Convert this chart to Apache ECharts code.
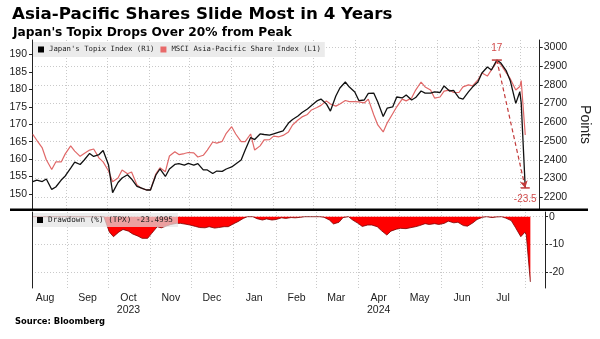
<!DOCTYPE html>
<html><head><meta charset="utf-8">
<script src="https://cdn.jsdelivr.net/npm/echarts@6/dist/echarts.min.js"></script>
<style>html,body{margin:0;padding:0;background:#fff}#c{width:600px;height:339px}</style>
</head><body><div id="c"></div>
<script>
const dates = [
'2023-08-07','2023-08-10','2023-08-14','2023-08-17','2023-08-21','2023-08-24','2023-08-28','2023-08-31',
'2023-09-04','2023-09-07','2023-09-11','2023-09-14','2023-09-18','2023-09-21','2023-09-25','2023-09-28',
'2023-10-02','2023-10-05','2023-10-09','2023-10-12','2023-10-16','2023-10-19','2023-10-23','2023-10-26',
'2023-10-30','2023-11-02','2023-11-06','2023-11-09','2023-11-13','2023-11-16','2023-11-20','2023-11-23',
'2023-11-27','2023-11-30','2023-12-04','2023-12-07','2023-12-11','2023-12-14','2023-12-18','2023-12-21',
'2023-12-25','2023-12-28','2024-01-01','2024-01-04','2024-01-08','2024-01-11','2024-01-15','2024-01-18',
'2024-01-22','2024-01-25','2024-01-29','2024-02-01','2024-02-05','2024-02-08','2024-02-12','2024-02-15',
'2024-02-19','2024-02-22','2024-02-26','2024-02-29','2024-03-04','2024-03-07','2024-03-11','2024-03-14',
'2024-03-18','2024-03-21','2024-03-25','2024-03-28','2024-04-01','2024-04-04','2024-04-08','2024-04-11',
'2024-04-15','2024-04-18','2024-04-22','2024-04-25','2024-04-29','2024-05-02','2024-05-06','2024-05-09',
'2024-05-13','2024-05-16','2024-05-20','2024-05-23','2024-05-27','2024-05-30','2024-06-03','2024-06-06',
'2024-06-10','2024-06-13','2024-06-17','2024-06-20','2024-06-24','2024-06-27','2024-07-01','2024-07-04',
'2024-07-08','2024-07-11','2024-07-15','2024-07-18','2024-07-22','2024-07-25','2024-07-29','2024-08-01',
'2024-08-02','2024-08-05'];

const topix = [
2284,2292,2284,2298,2242,2255,2292,2314,
2356,2388,2375,2399,2434,2418,2428,2450,
2372,2225,2279,2303,2320,2298,2258,2250,
2239,2239,2319,2351,2311,2351,2375,2380,
2372,2381,2372,2380,2346,2346,2327,2340,
2338,2351,2362,2378,2399,2452,2519,2508,
2538,2535,2532,2538,2548,2554,2596,2615,
2634,2652,2671,2690,2714,2724,2698,2660,
2740,2783,2815,2788,2762,2716,2719,2754,
2756,2708,2631,2676,2682,2735,2730,2746,
2719,2732,2767,2756,2756,2762,2759,2794,
2767,2770,2730,2724,2762,2788,2815,2863,
2895,2879,2932,2916,2874,2820,2701,2763,
2705,2250];

const msci = [
167.1,165.4,163.2,159.8,157.0,159.2,159.2,161.5,
163.8,162.3,160.8,161.6,162.6,162.9,160.3,159.2,
156.6,153.5,154.6,156.9,155.8,156.3,152.6,151.7,
151.2,151.2,155.8,157.5,156.4,160.9,162.1,161.3,
161.6,161.9,161.8,160.6,161.1,162.6,164.9,164.6,
165.1,167.4,169.3,167.2,165.0,165.0,167.2,162.6,
163.8,165.5,165.6,166.6,166.4,166.8,167.8,169.8,
171.2,172.1,172.8,174.1,174.8,175.4,176.7,175.8,
175.2,175.8,176.8,176.5,176.5,176.4,176.1,177.2,
172.7,169.8,167.8,170.4,173.0,175.0,177.2,176.7,
177.5,179.8,182.1,180.7,179.8,177.5,177.8,179.5,
179.8,179.1,179.1,180.7,181.3,181.0,182.7,184.7,
183.8,185.6,187.9,187.1,184.7,183.0,179.8,180.8,
182.5,166.9];

const drawdown = [
0,0,0,0,0,0,0,0,
0,0,0,0,0,0,0,0,
-5.5,-7.2,-5.5,-4.6,-5.2,-6.2,-7.0,-7.8,
-7.8,-6.0,-3.6,-4.0,-3.3,-2.8,-2.4,-2.4,
-2.7,-3.0,-3.5,-3.9,-4.0,-3.6,-4.1,-3.9,
-3.6,-3.6,-2.5,-1.8,-0.6,0,0,-0.7,
-1.2,-0.8,-1.2,-1.0,-0.4,-0.6,-0.3,-0.4,
-0.2,0,0,0,0,-0.2,-1.2,-2.6,
-2.0,-0.3,0,-1.2,-2.4,-3.5,-3.0,-3.0,
-3.6,-5.0,-6.6,-5.2,-4.5,-4.2,-4.3,-4.0,
-3.6,-3.2,-2.5,-2.8,-2.5,-2.8,-2.4,-1.6,
-2.2,-2.0,-3.2,-3.4,-2.2,-1.0,-0.2,0,
-0.3,-0.1,0,-0.5,-1.4,-3.8,-7.2,-5.6,
-6.5,-23.5];

const monthStarts = ['2023-09-01','2023-10-01','2023-11-01','2023-12-01','2024-01-01','2024-02-01',
  '2024-03-01','2024-04-01','2024-05-01','2024-06-01','2024-07-01','2024-08-01'];
const monthLabelDates = ['2023-08-16','2023-09-16','2023-10-16','2023-11-16','2023-12-16','2024-01-16',
  '2024-02-16','2024-03-16','2024-04-16','2024-05-16','2024-06-16','2024-07-16'];
const monthLabels = ['Aug','Sep','Oct\n2023','Nov','Dec','Jan','Feb','Mar','Apr\n2024','May','Jun','Jul'];
const leftTicks = [150,155,160,165,170,175,180,185,190];
const rightTicks = [2200,2300,2400,2500,2600,2700,2800,2900,3000];
const ddTicks = [0,-10,-20];

const titleText = 'Asia-Pacific Shares Slide Most in 4 Years';
const subtitleText = "Japan's Topix Drops Over 20% from Peak";
const sourceText = 'Source: Bloomberg';
const topixName = "Japan's Topix Index (R1)";
const msciName = 'MSCI Asia-Pacific Share Index (L1)';
const ddName = 'Drawdown (%) (TPX) -23.4995';
const peakLabel = '17';

function t(s) {
  const p = s.split(/[- :]/).map(Number);
  return Date.UTC(p[0], p[1] - 1, p[2], p[3] || 0, p[4] || 0);
}
const xMin = t('2023-08-06 10:00');
const xMax = t('2024-08-15 17:00');
const startTs = monthStarts.map(t);
const labelTs = monthLabelDates.map(t);

const peakIdx = topix.indexOf(Math.max(...topix));
const lastIdx = topix.length - 1;
const RED = '#d24a4a';

const gridLine = {show: true, lineStyle: {color: '#c9c9c9', type: [1, 2], width: 1}};
const lblFont = {fontFamily: 'Liberation Sans, Arial, sans-serif', fontSize: 10.5, color: '#222'};
const plain = v => String(v);

const chart = echarts.init(document.getElementById('c'), null, {renderer: 'canvas'});
chart.setOption({
  animation: false,
  backgroundColor: '#fff',
  title: [
    {text: titleText, left: 7, top: 1, textStyle: {fontFamily: 'DejaVu Sans', fontWeight: 'bold', fontSize: 16.7, color: '#000'}},
    {text: subtitleText, left: 8, top: 22, textStyle: {fontFamily: 'DejaVu Sans', fontWeight: 'bold', fontSize: 12.2, color: '#000'}},
    {text: sourceText, left: 10, top: 313, textStyle: {fontFamily: 'DejaVu Sans', fontWeight: 'bold', fontSize: 8.4, color: '#000'}}
  ],
  legend: [
    {data: [{name: topixName, itemStyle: {color: '#000'}}, {name: msciName, itemStyle: {color: '#e86a6a'}}],
     left: 33, top: 42, icon: 'rect', itemWidth: 6, itemHeight: 6, itemGap: 6,
     backgroundColor: '#ebebeb', padding: [4, 4, 4, 5], selectedMode: false,
     textStyle: {fontFamily: 'DejaVu Sans Mono', fontSize: 7.3, color: '#222'}},
    {data: [{name: ddName, itemStyle: {color: '#000'}}],
     left: 33, top: 213, icon: 'rect', itemWidth: 6, itemHeight: 6,
     backgroundColor: 'rgba(228,228,228,0.7)', padding: [3, 5, 3, 4], selectedMode: false,
     textStyle: {fontFamily: 'DejaVu Sans Mono', fontSize: 7.7, color: '#222'}}
  ],
  grid: [
    {left: 32, right: 55, top: 40, height: 169},
    {left: 32, right: 55, top: 212, height: 76}
  ],
  xAxis: [
    {type: 'value', gridIndex: 0, min: xMin, max: xMax,
     axisLine: {show: false}, axisTick: {show: false, customValues: startTs},
     axisLabel: {show: false}, splitLine: gridLine},
    {type: 'value', gridIndex: 1, min: xMin, max: xMax,
     axisLine: {show: false}, axisTick: {show: false, customValues: startTs},
     axisLabel: Object.assign({show: true, customValues: labelTs, margin: 4, lineHeight: 12,
       formatter: v => { const i = labelTs.indexOf(v); return i >= 0 ? monthLabels[i] : ''; }}, lblFont),
     splitLine: gridLine}
  ],
  yAxis: [
    {type: 'value', gridIndex: 0, position: 'left', min: 145.7, max: 194.15,
     axisLine: {show: true, lineStyle: {color: '#222', width: 1}},
     axisTick: {show: true, length: 3, customValues: leftTicks, lineStyle: {color: '#222'}},
     axisLabel: Object.assign({customValues: leftTicks, margin: 5, formatter: plain}, lblFont),
     splitLine: {show: false}},
    {type: 'value', gridIndex: 0, position: 'right', min: 2137.6, max: 3039,
     name: 'Points', nameLocation: 'middle', nameRotate: -90, nameGap: 32,
     nameTextStyle: {fontFamily: 'Liberation Sans, Arial, sans-serif', fontSize: 14, color: '#222'},
     axisLine: {show: true, lineStyle: {color: '#222', width: 1}},
     axisTick: {show: true, length: 3, customValues: rightTicks, lineStyle: {color: '#222'}},
     axisLabel: Object.assign({customValues: rightTicks, margin: 4, formatter: plain}, lblFont),
     splitLine: gridLine},
    {type: 'value', gridIndex: 1, position: 'right', min: -25.7, max: 1.7,
     axisLine: {show: true, lineStyle: {color: '#222', width: 1}},
     axisTick: {show: true, length: 3, customValues: ddTicks, lineStyle: {color: '#222'}},
     axisLabel: Object.assign({customValues: ddTicks, margin: 4, formatter: plain}, lblFont),
     splitLine: gridLine},
    {type: 'value', gridIndex: 1, position: 'left', min: -25.7, max: 1.7,
     axisLine: {show: true, lineStyle: {color: '#222', width: 1}},
     axisTick: {show: false}, axisLabel: {show: false}, splitLine: {show: false}}
  ],
  graphic: [
    {type: 'rect', shape: {x: 10, y: 208.5, width: 578, height: 2.5}, style: {fill: '#000'}, z: 100}
  ],
  series: [
    {name: msciName, type: 'line', xAxisIndex: 0, yAxisIndex: 0, showSymbol: false, symbol: 'none',
     data: dates.map((d, i) => [t(d), msci[i]]),
     lineStyle: {color: '#e06868', width: 1.2}, itemStyle: {color: '#e86a6a'}, z: 2},
    {name: topixName, type: 'line', xAxisIndex: 0, yAxisIndex: 1, showSymbol: false, symbol: 'none',
     data: dates.map((d, i) => [t(d), topix[i]]),
     lineStyle: {color: '#111', width: 1.3}, itemStyle: {color: '#000'}, z: 3,
     markLine: {silent: true, symbol: ['none', 'arrow'], symbolSize: [6, 7], animation: false,
       lineStyle: {color: '#c23a3a', type: [4, 3], width: 1.2}, label: {show: false},
       data: [[{coord: [t(dates[peakIdx]), topix[peakIdx]]}, {coord: [t(dates[lastIdx]), topix[lastIdx]]}]]},
     markPoint: {silent: true, animation: false,
       data: [
         {coord: [t(dates[peakIdx]), topix[peakIdx]], symbol: 'rect', symbolSize: [10, 1.5],
          itemStyle: {color: '#c23a3a'},
          label: {show: true, formatter: peakLabel, position: 'top', distance: 6, color: RED, fontSize: 10,
                  fontFamily: 'Liberation Sans, Arial, sans-serif'}},
         {coord: [t(dates[lastIdx]), topix[lastIdx]], symbol: 'rect', symbolSize: [9, 1.5],
          itemStyle: {color: '#c23a3a'},
          label: {show: true, formatter: drawdown[lastIdx].toFixed(1), position: 'bottom', distance: 6, color: RED, fontSize: 10,
                  fontFamily: 'Liberation Sans, Arial, sans-serif'}}
       ]}},
    {name: ddName, type: 'line', xAxisIndex: 1, yAxisIndex: 2, showSymbol: false, symbol: 'none',
     data: dates.map((d, i) => [t(d), drawdown[i]]),
     lineStyle: {color: '#7a0000', width: 0.8}, itemStyle: {color: '#000'},
     areaStyle: {color: '#ff0000', opacity: 1}, z: 2}
  ]
});
</script>
</body></html>
